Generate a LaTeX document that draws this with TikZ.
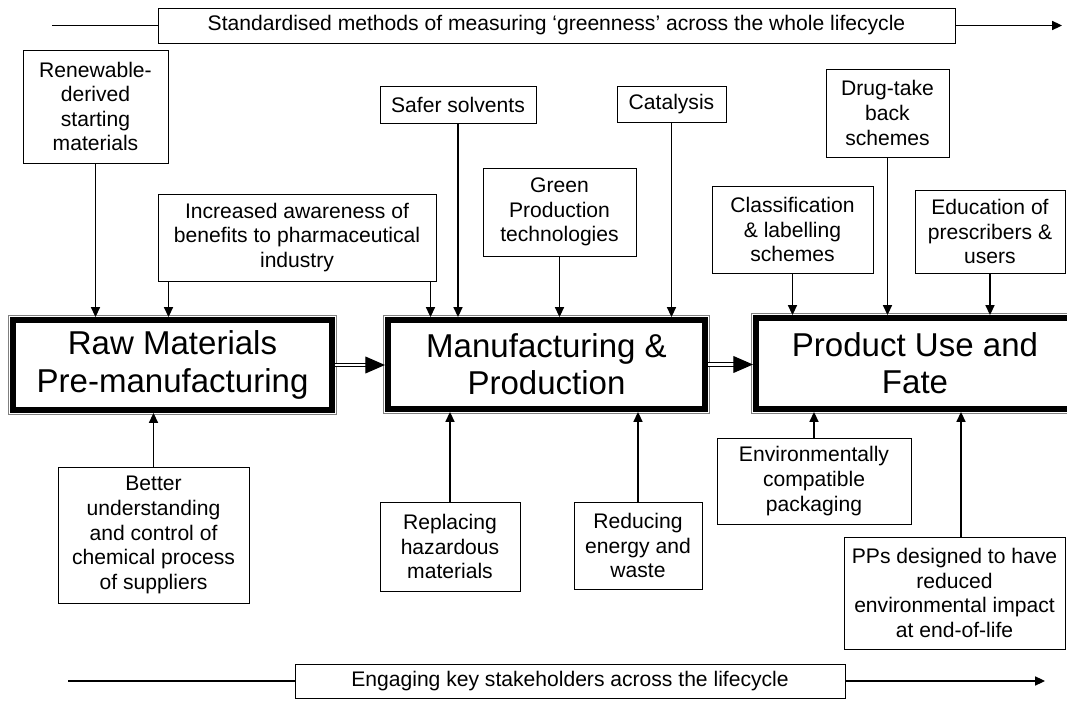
\documentclass[tikz,border=0pt]{standalone}
\usepackage{fontspec}
\setmainfont{Liberation Sans}
\usetikzlibrary{arrows.meta}
\tikzset{
    sz/.style 2 args={minimum width=#1*0.025cm,minimum height=#2*0.025cm},
    lbl/.style={draw,line width=0.7pt,inner sep=0pt,align=center,font=\fontsize{15}{17.5}\selectfont},
    stage/.style={draw,line width=4.3pt,inner sep=0pt,align=center,font=\fontsize{23.5}{26.5}\selectfont},
    arr/.style={line width=0.8pt,-{Triangle[length=7pt,width=6.5pt]}},
    dblarr/.style={double,double distance=1.8pt,line width=0.8pt,-{Triangle[length=14pt,width=12pt]}}
}
\begin{document}
\begin{tikzpicture}[x=0.025cm,y=-0.025cm]
        \useasboundingbox (0,0) rectangle (1067,702);
        % banners
        \node [lbl,sz={797}{35}] (tb) at (556.5,25.5) {Standardised methods of measuring ‘greenness’ across the whole lifecycle};
        \node [lbl,sz={550}{34}] (bb) at (570,681) {Engaging key stakeholders across the lifecycle};
        \coordinate (tl) at (52,25.5);
        \coordinate (tr) at (1062,25.5);
        \coordinate (bl) at (68,681);
        \coordinate (br) at (1045,681);
        \draw [line width=0.8pt] (tl) -- (tb);
        \draw [arr] (tb) -- (tr);
        \draw [line width=0.8pt] (bl) -- (bb);
        \draw [arr] (bb) -- (br);
        % stages
        \node [stage,sz={319}{90}] (raw) at (172.5,365) {Raw Materials\\Pre-manufacturing};
        \node [stage,sz={317}{89}] (mfg) at (546.5,364.5) {Manufacturing \&\\Production};
        \node [stage,sz={318}{91}] (prod) at (915,363.5) {Product Use and\\Fate};
        \foreach \b in {raw,mfg,prod} {
            \draw [line width=0.4pt,gray] ([shift={(-1.5,1.5)}]\b.south west) rectangle ([shift={(1.5,-1.5)}]\b.north east);
        }
        \draw [dblarr] (raw.east) -- (raw.east -| mfg.west);
        \draw [dblarr] (mfg.east) -- (mfg.east -| prod.west);
        % boxes above
        \node [lbl,sz={145}{113}] (renew) at (95.5,106.5) {Renewable-\\derived\\starting\\materials};
        \node [lbl,sz={278}{87}] (aware) at (297,237.5) {Increased awareness of\\benefits to pharmaceutical\\industry};
        \node [lbl,sz={156}{37}] (solv) at (458,104.5) {Safer solvents};
        \node [lbl,sz={109}{36}] (cat) at (671.5,104) {Catalysis};
        \node [lbl,sz={153}{88}] (green) at (559.5,212) {Green\\Production\\technologies};
        \node [lbl,sz={123}{88}] (drug) at (887.5,113) {Drug-take\\back\\schemes};
        \node [lbl,sz={161}{87}] (classif) at (792.5,229.5) {Classification\\\& labelling\\schemes};
        \node [lbl,sz={150}{83}] (educ) at (990,231.5) {Education of\\prescribers \&\\users};
        % boxes below
        \node [lbl,sz={191}{136}] (better) at (153.5,535) {Better\\understanding\\and control of\\chemical process\\of suppliers};
        \node [lbl,sz={140}{89}] (repl) at (450,546.5) {Replacing\\hazardous\\materials};
        \node [lbl,sz={128}{87}] (reduc) at (638,545.5) {Reducing\\energy and\\waste};
        \node [lbl,sz={194}{86}] (env) at (814,481) {Environmentally\\compatible\\packaging};
        \node [lbl,sz={221}{112}] (pps) at (954.5,593) {PPs designed to have\\reduced\\environmental impact\\at end-of-life};
        % arrows
        \path (aware.south west) ++(11,0) coordinate (aw1);
        \path (aware.south east) ++(-6,0) coordinate (aw2);
        \path (pps.north) ++(6.5,0) coordinate (pp1);
        \draw [arr] (renew) -- (renew |- raw.north);
        \draw [arr] (aw1) -- (aw1 |- raw.north);
        \draw [arr] (aw2) -- (aw2 |- mfg.north);
        \draw [arr] (solv) -- (solv |- mfg.north);
        \draw [arr] (green) -- (green |- mfg.north);
        \draw [arr] (cat) -- (cat |- mfg.north);
        \draw [arr] (classif) -- (classif |- prod.north);
        \draw [arr] (drug) -- (drug |- prod.north);
        \draw [arr] (educ) -- (educ |- prod.north);
        \draw [arr] (better) -- (better |- raw.south);
        \draw [arr] (repl) -- (repl |- mfg.south);
        \draw [arr] (reduc) -- (reduc |- mfg.south);
        \draw [arr] (env) -- (env |- prod.south);
        \draw [arr] (pp1) -- (pp1 |- prod.south);
\end{tikzpicture}
\end{document}
